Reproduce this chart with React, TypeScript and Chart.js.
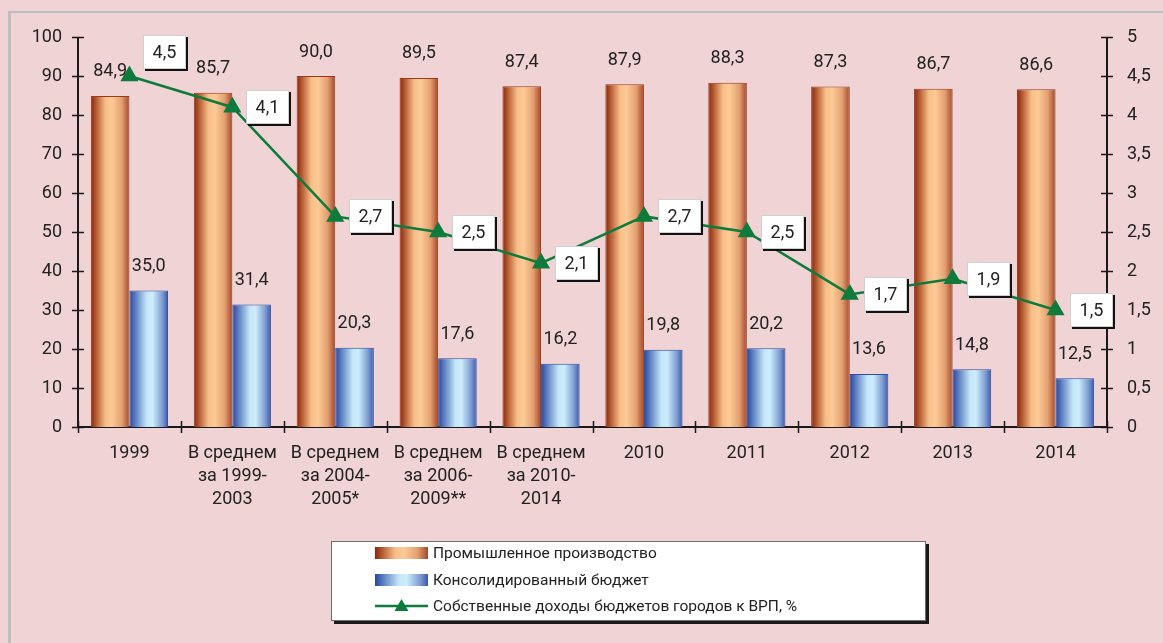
import React, { useEffect, useRef } from 'react';
import { Chart, registerables } from 'chart.js';

Chart.register(...registerables);

// ---------- data ----------
const categories: string[][] = [
  ['1999'],
  ['В среднем', 'за 1999-', '2003'],
  ['В среднем', 'за 2004-', '2005*'],
  ['В среднем', 'за 2006-', '2009**'],
  ['В среднем', 'за 2010-', '2014'],
  ['2010'],
  ['2011'],
  ['2012'],
  ['2013'],
  ['2014'],
];
const industry = [84.9, 85.7, 90.0, 89.5, 87.4, 87.9, 88.3, 87.3, 86.7, 86.6];
const budget = [35.0, 31.4, 20.3, 17.6, 16.2, 19.8, 20.2, 13.6, 14.8, 12.5];
const ownRevenue = [4.5, 4.1, 2.7, 2.5, 2.1, 2.7, 2.5, 1.7, 1.9, 1.5];
const seriesNames = [
  'Промышленное производство',
  'Консолидированный бюджет',
  'Собственные доходы бюджетов городов к ВРП, %',
];
const leftAxis = { min: 0, max: 100, step: 10 };
const rightAxis = { min: 0, max: 5, step: 0.5 };

// ---------- styles ----------
const FONT = 'Roboto, "Open Sans", sans-serif';
const TEXT = '#222222';
const PINK = '#EFD3D5';
const GREEN = '#0E7B3C';
const CAT_PCT = 0.75;
const ORANGE_STOPS: [number, string][] = [
  [0, '#86260E'],
  [0.12, '#B0542C'],
  [0.38, '#F8BE88'],
  [0.55, '#FCCA96'],
  [0.8, '#E3A070'],
  [1, '#A4462A'],
];
const BLUE_STOPS: [number, string][] = [
  [0, '#27459A'],
  [0.15, '#5A7CC0'],
  [0.45, '#C4E6F8'],
  [0.6, '#CDEDFB'],
  [0.85, '#7E9CD2'],
  [1, '#3A58A8'],
];

const fmtTick = (v: number) => (Number.isInteger(v) ? String(v) : v.toFixed(1).replace('.', ','));
const fmtVal = (v: number) => v.toFixed(1).replace('.', ',');

function gradientFor(ctx: CanvasRenderingContext2D, left: number, width: number, stops: [number, string][]) {
  const g = ctx.createLinearGradient(left, 0, left + width, 0);
  stops.forEach(([o, c]) => g.addColorStop(o, c));
  return g;
}

function barFill(dsIdx: number, stops: [number, string][], fallback: string) {
  return (c: any) => {
    const chart = c.chart;
    const x = chart.scales && chart.scales.x;
    if (c.type !== 'data' || !x || !x.width) return fallback;
    const center = x.getPixelForValue(c.dataIndex);
    const catW = x.width / categories.length;
    const bw = (catW * CAT_PCT) / 2;
    const left = dsIdx === 0 ? center - bw : center;
    return gradientFor(chart.ctx, left, bw, stops);
  };
}

const decorPlugin = {
  id: 'decor',
  beforeDraw(chart: any) {
    const { ctx, width, height } = chart;
    ctx.save();
    ctx.fillStyle = PINK;
    ctx.fillRect(0, 0, width, height);
    // outer frame (left + top)
    ctx.fillStyle = '#BEBEBE';
    ctx.fillRect(8, 11, 3, height - 11);
    ctx.fillStyle = '#B8BFC5';
    ctx.fillRect(8, 11, width - 8, 2);
    ctx.restore();
  },
  beforeDatasetsDraw(chart: any) {
    const { ctx, chartArea } = chart;
    const x = chart.scales.x;
    const y = chart.scales.y;
    const y1 = chart.scales.y1;
    ctx.save();
    ctx.strokeStyle = '#1A1A1A';
    ctx.lineWidth = 2;
    ctx.beginPath();
    ctx.moveTo(chartArea.left, chartArea.top);
    ctx.lineTo(chartArea.left, chartArea.bottom);
    ctx.moveTo(chartArea.right, chartArea.top);
    ctx.lineTo(chartArea.right, chartArea.bottom);
    ctx.moveTo(chartArea.left, chartArea.bottom);
    ctx.lineTo(chartArea.right, chartArea.bottom);
    ctx.stroke();
    ctx.lineWidth = 1.5;
    ctx.beginPath();
    y.ticks.forEach((t: any) => {
      const py = Math.round(y.getPixelForValue(t.value)) + 0.5;
      ctx.moveTo(chartArea.left - 6, py);
      ctx.lineTo(chartArea.left + 6, py);
    });
    y1.ticks.forEach((t: any) => {
      const py = Math.round(y1.getPixelForValue(t.value)) + 0.5;
      ctx.moveTo(chartArea.right - 6, py);
      ctx.lineTo(chartArea.right + 6, py);
    });
    const catW = x.width / categories.length;
    for (let i = 0; i <= categories.length; i++) {
      const px = Math.round(chartArea.left + i * catW) + 0.5;
      ctx.moveTo(px, chartArea.bottom - 6);
      ctx.lineTo(px, chartArea.bottom + 6);
    }
    ctx.stroke();
    ctx.restore();
  },
  afterDatasetsDraw(chart: any) {
    const { ctx } = chart;
    ctx.save();
    ctx.font = `18px ${FONT}`;
    ctx.fillStyle = TEXT;
    ctx.textAlign = 'center';
    ctx.textBaseline = 'middle';
    [1, 2].forEach((dsIdx) => {
      const meta = chart.getDatasetMeta(dsIdx);
      const data = chart.data.datasets[dsIdx].data as number[];
      meta.data.forEach((bar: any, i: number) => {
        ctx.fillText(fmtVal(data[i]), bar.x, bar.y - 24);
      });
    });
    const lineShift = [-24, 0, 0, 0, 0, 0, 0, 0, 0, 0];
    const meta = chart.getDatasetMeta(0);
    const data = chart.data.datasets[0].data as number[];
    meta.data.forEach((pt: any, i: number) => {
      const bw = 43;
      const bh = 34;
      const left = Math.round(pt.x + 14);
      const top = Math.round(pt.y + lineShift[i] - bh / 2);
      ctx.fillStyle = '#111111';
      ctx.fillRect(left + 2, top + 2, bw, bh);
      ctx.fillStyle = '#FFFFFF';
      ctx.fillRect(left, top, bw, bh);
      ctx.strokeStyle = '#D0D0D0';
      ctx.lineWidth = 1;
      ctx.strokeRect(left + 0.5, top + 0.5, bw - 1, bh - 1);
      ctx.fillStyle = TEXT;
      ctx.font = `18px ${FONT}`;
      ctx.fillText(fmtVal(data[i]), left + bw / 2, top + bh / 2 + 1);
    });
    ctx.restore();
  },
  afterDraw(chart: any) {
    const { ctx } = chart;
    ctx.save();
    const bx = 331, by = 541, bw = 595, bh = 80;
    ctx.fillStyle = '#1A1A1A';
    ctx.fillRect(bx + 3, by + 3, bw, bh);
    ctx.fillStyle = '#FFFFFF';
    ctx.fillRect(bx, by, bw, bh);
    ctx.strokeStyle = '#6E6E6E';
    ctx.lineWidth = 1;
    ctx.strokeRect(bx + 0.5, by + 0.5, bw - 1, bh - 1);
    const rows = [553, 580, 606];
    const symL = 375, symW = 53;
    const ds = chart.data.datasets;
    ctx.fillStyle = gradientFor(ctx, symL, symW, ORANGE_STOPS);
    ctx.fillRect(symL, rows[0] - 6, symW, 12);
    ctx.fillStyle = gradientFor(ctx, symL, symW, BLUE_STOPS);
    ctx.fillRect(symL, rows[1] - 6, symW, 12);
    ctx.strokeStyle = GREEN;
    ctx.lineWidth = 2.5;
    ctx.beginPath();
    ctx.moveTo(symL, rows[2]);
    ctx.lineTo(symL + symW, rows[2]);
    ctx.stroke();
    ctx.fillStyle = GREEN;
    ctx.beginPath();
    const tx = symL + symW / 2;
    ctx.moveTo(tx, rows[2] - 7);
    ctx.lineTo(tx + 7, rows[2] + 5);
    ctx.lineTo(tx - 7, rows[2] + 5);
    ctx.closePath();
    ctx.fill();
    ctx.fillStyle = TEXT;
    ctx.font = `15.5px ${FONT}`;
    ctx.textAlign = 'left';
    ctx.textBaseline = 'middle';
    ctx.fillText(ds[1].label, 433, rows[0] + 1);
    ctx.fillText(ds[2].label, 433, rows[1] + 1);
    ctx.fillText(ds[0].label, 433, rows[2] + 1);
    ctx.restore();
  },
};

export default function App() {
  const ref = useRef<HTMLCanvasElement | null>(null);
  useEffect(() => {
    const canvas = ref.current;
    if (!canvas) return;
    const chart = new Chart(canvas, {
      type: 'bar',
      data: {
        labels: categories,
        datasets: [
          {
            type: 'line',
            label: seriesNames[2],
            data: ownRevenue,
            yAxisID: 'y1',
            borderColor: GREEN,
            backgroundColor: GREEN,
            borderWidth: 2.5,
            pointStyle: 'triangle',
            pointRadius: 8,
            pointBackgroundColor: GREEN,
            pointBorderColor: GREEN,
            tension: 0,
            order: 0,
          } as any,
          {
            type: 'bar',
            label: seriesNames[0],
            data: industry,
            yAxisID: 'y',
            backgroundColor: barFill(0, ORANGE_STOPS, '#E8A06A'),
            borderColor: '#9A3A1C',
            borderWidth: 1,
            categoryPercentage: CAT_PCT,
            barPercentage: 1,
            order: 1,
          },
          {
            type: 'bar',
            label: seriesNames[1],
            data: budget,
            yAxisID: 'y',
            backgroundColor: barFill(1, BLUE_STOPS, '#7EA0D8'),
            borderColor: '#2D4FA5',
            borderWidth: 1,
            categoryPercentage: CAT_PCT,
            barPercentage: 1,
            order: 1,
          },
        ],
      },
      options: {
        animation: false,
        responsive: false,
        maintainAspectRatio: false,
        layout: { padding: { top: 37, left: 0, right: 0, bottom: 0 } },
        plugins: {
          legend: { display: false },
          tooltip: { enabled: false },
        },
        scales: {
          x: {
            grid: { display: false, drawTicks: false },
            border: { display: false },
            ticks: {
              color: TEXT,
              font: { family: FONT, size: 18, lineHeight: '23px' } as any,
              padding: 15,
              maxRotation: 0,
              autoSkip: false,
            },
            afterFit: (s: any) => {
              s.height = 216;
            },
          },
          y: {
            position: 'left',
            min: leftAxis.min,
            max: leftAxis.max,
            grid: { display: false, drawTicks: false },
            border: { display: false },
            ticks: {
              stepSize: leftAxis.step,
              color: TEXT,
              font: { family: FONT, size: 18 },
              padding: 16,
            },
            afterFit: (s: any) => {
              s.width = 78;
            },
          },
          y1: {
            position: 'right',
            min: rightAxis.min,
            max: rightAxis.max,
            grid: { display: false, drawTicks: false },
            border: { display: false },
            ticks: {
              stepSize: rightAxis.step,
              color: TEXT,
              font: { family: FONT, size: 18 },
              padding: 20,
              callback: (v: any) => fmtTick(Number(v)),
            },
            afterFit: (s: any) => {
              s.width = 56;
            },
          },
        },
      },
      plugins: [decorPlugin],
    });
    return () => chart.destroy();
  }, []);
  return (
    <div style={{ position: 'absolute', left: 0, top: 0, width: 1163, height: 643, background: PINK }}>
      <canvas ref={ref} width={1163} height={643} style={{ display: 'block', width: 1163, height: 643 }} />
    </div>
  );
}
